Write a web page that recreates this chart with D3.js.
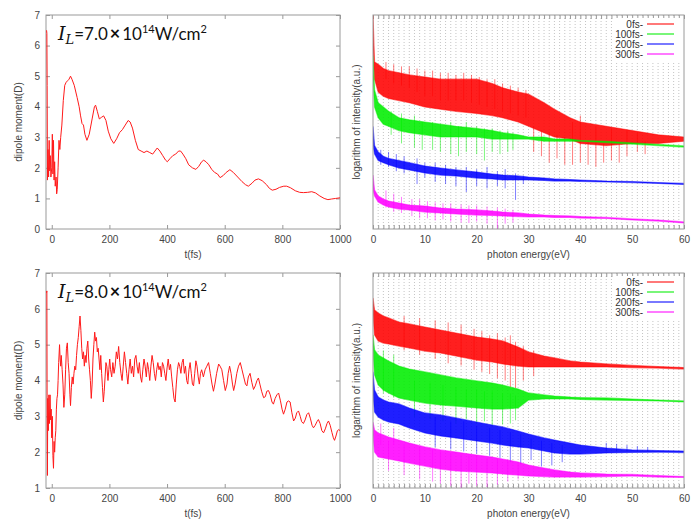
<!DOCTYPE html>
<html>
<head>
<meta charset="utf-8">
<script src="https://cdn.jsdelivr.net/npm/d3@7"></script>
<style>
  body { margin: 0; background: #fff; }
  svg { display: block; font-family: 'Liberation Sans', Arial, sans-serif; }
</style>
</head>
<body>
<div id="chart"></div>
<script>
// ---- data ----
const intensityLabels = ['7.0', '8.0'];
const legendLabels = ['0fs-', '100fs-', '200fs-', '300fs-'];
const seriesColors = ['#ff0000', '#00ee00', '#0000ff', '#ff00ff'];

// dipole moment (D) vs t (fs), I = 7.0e14
const dipole7 = [
  [-18, 6.5], [-17, 6.4], [-16, 4.7], [-15, 1.6], [-13, 2.6], [-11, 1.7], [-9, 2.9], [-7, 1.9],
  [-5, 2.4], [-3, 1.7], [0, 2.0], [2, 3.1], [4, 1.8], [6, 2.9], [8, 1.6], [10, 2.2], [12, 1.4],
  [15, 1.7], [17, 1.15], [19, 1.3], [22, 2.0], [25, 2.9], [28, 2.6], [31, 3.0], [35, 3.4],
  [40, 4.2], [45, 4.7], [50, 4.8], [55, 4.85], [60, 4.9], [65, 5.0], [70, 4.9], [78, 4.7],
  [88, 4.3], [95, 4.0], [100, 3.7], [105, 3.45], [110, 3.4], [115, 3.1], [122, 2.9], [130, 3.1],
  [140, 3.6], [148, 4.0], [152, 4.05], [158, 3.85], [165, 3.6], [172, 3.65], [180, 3.7],
  [188, 3.55], [196, 3.2], [205, 2.95], [215, 2.8], [225, 2.95], [235, 3.15], [245, 3.25],
  [255, 3.4], [265, 3.55], [272, 3.5], [280, 3.3], [290, 2.9], [300, 2.6], [310, 2.55],
  [320, 2.5], [330, 2.55], [340, 2.5], [350, 2.45], [358, 2.55], [366, 2.65], [375, 2.55],
  [385, 2.4], [395, 2.25], [401, 2.2], [410, 2.3], [420, 2.4], [430, 2.45], [440, 2.55],
  [447, 2.55], [455, 2.45], [465, 2.3], [475, 2.1], [488, 2.0], [500, 1.95], [510, 2.05],
  [520, 2.2], [527, 2.25], [535, 2.2], [545, 2.1], [555, 1.95], [565, 1.85], [575, 1.8],
  [584, 1.68], [595, 1.75], [605, 1.85], [618, 1.94], [630, 1.85], [645, 1.7], [660, 1.55],
  [672, 1.45], [682, 1.4], [695, 1.5], [705, 1.6], [717, 1.64], [730, 1.58], [745, 1.45],
  [755, 1.33], [765, 1.27], [778, 1.3], [790, 1.36], [805, 1.4], [815, 1.4], [828, 1.35],
  [845, 1.25], [860, 1.2], [873, 1.19], [888, 1.2], [902, 1.22], [915, 1.18], [930, 1.08],
  [945, 1.0], [958, 0.96], [970, 0.98], [985, 1.0], [1000, 1.02],
];

// dipole moment (D) vs t (fs), I = 8.0e14
const dipole8 = [
  [-18, 6.45], [-17, 6.5], [-16, 3.0], [-15, 1.35], [-14, 3.5], [-12, 2.6], [-10, 3.6], [-8, 2.8],
  [-6, 3.6], [-4, 2.9], [-2, 3.2], [0, 2.4], [2, 3.0], [4, 1.9], [6, 1.55], [8, 2.3], [10, 2.0],
  [12, 2.4], [14, 2.6], [16, 3.2], [18, 3.5], [20, 3.6], [22, 4.0], [24, 4.5], [27, 5.0],
  [29, 4.6], [31, 4.4], [33, 4.7], [36, 4.3], [39, 3.9], [42, 3.25], [45, 3.6], [48, 4.3],
  [51, 4.9], [54, 5.05], [57, 4.5], [60, 4.2], [63, 3.6], [65, 3.3], [68, 3.8], [71, 4.1],
  [74, 3.9], [77, 4.2], [80, 4.4], [83, 4.3], [86, 4.7], [89, 5.0], [92, 5.2], [95, 5.5],
  [98, 5.8], [101, 5.4], [104, 4.9], [107, 4.6], [110, 4.8], [113, 4.4], [116, 4.7], [119, 4.5],
  [122, 4.9], [125, 5.1], [128, 4.6], [131, 4.3], [134, 4.0], [137, 3.5], [140, 3.9], [143, 4.6],
  [146, 5.0], [149, 5.35], [152, 5.1], [155, 5.2], [158, 4.8], [161, 4.9], [164, 4.6], [167, 4.3],
  [170, 4.7], [173, 4.2], [176, 3.8], [179, 3.4], [182, 3.7], [185, 4.1], [188, 4.5], [191, 4.4],
  [195, 4.0], [198, 4.3], [201, 4.6], [204, 4.3], [208, 4.1], [212, 4.5], [216, 4.2], [220, 4.4],
  [224, 4.8], [228, 4.6], [232, 4.95], [236, 4.5], [240, 4.2], [244, 4.0], [248, 4.4], [252, 4.8],
  [256, 4.5], [260, 4.2], [264, 3.9], [268, 4.3], [272, 4.6], [276, 4.2], [280, 4.4], [284, 4.1],
  [288, 4.6], [292, 4.7], [296, 4.4], [300, 4.2], [304, 4.5], [308, 4.1], [312, 3.95], [316, 4.3],
  [320, 4.6], [324, 4.4], [328, 4.1], [332, 4.5], [336, 4.3], [340, 4.0], [344, 4.4], [348, 4.7],
  [352, 4.5], [356, 4.2], [360, 4.0], [364, 4.3], [368, 4.5], [372, 4.3], [376, 4.4], [380, 4.1],
  [384, 4.5], [388, 4.4], [392, 4.2], [396, 4.0], [400, 4.35], [404, 4.6], [408, 4.3], [412, 4.45],
  [416, 4.1], [420, 3.8], [424, 3.5], [428, 3.4], [432, 3.9], [436, 4.3], [440, 4.5], [444, 4.4],
  [448, 4.2], [452, 4.5], [456, 4.6], [460, 4.2], [464, 4.4], [468, 4.0], [472, 3.9], [476, 4.3],
  [480, 4.5], [484, 4.2], [488, 3.9], [492, 3.85], [496, 4.2], [500, 4.55], [504, 4.4], [508, 4.1],
  [512, 3.9], [516, 4.2], [520, 4.3], [526, 4.1], [532, 4.3], [538, 4.4], [544, 4.5], [550, 4.2],
  [556, 3.9], [561, 3.7], [566, 3.9], [572, 4.2], [579, 4.46], [584, 4.4], [590, 4.3], [596, 4.0],
  [602, 3.72], [608, 3.9], [612, 4.2], [617, 4.4], [622, 4.2], [627, 3.9], [631, 3.72], [636, 3.9],
  [642, 4.2], [648, 4.4], [654, 4.5], [660, 4.3], [666, 4.1], [672, 3.9], [677, 3.85], [682, 4.1],
  [688, 4.2], [694, 3.95], [700, 3.75], [706, 3.85], [712, 4.0], [717, 4.07], [722, 3.9], [728, 3.7],
  [735, 3.52], [741, 3.55], [746, 3.7], [752, 3.72], [758, 3.6], [764, 3.4], [769, 3.34], [775, 3.5],
  [781, 3.6], [787, 3.65], [793, 3.45], [799, 3.2], [804, 3.06], [810, 3.2], [816, 3.4], [821, 3.43],
  [827, 3.4], [833, 3.1], [839, 2.87], [845, 2.95], [850, 3.1], [856, 3.15], [862, 3.0], [867, 2.85],
  [873, 2.8], [879, 2.9], [885, 3.05], [891, 3.1], [897, 2.95], [903, 2.75], [908, 2.68], [914, 2.75],
  [920, 2.85], [925, 2.91], [931, 2.8], [937, 2.6], [943, 2.54], [949, 2.65], [955, 2.8], [960, 2.87],
  [966, 2.75], [972, 2.55], [977, 2.4], [981, 2.33], [986, 2.45], [991, 2.6], [996, 2.63], [1000, 2.6],
];

// spectra: log intensity (arbitrary units) upper / lower edge of the dense trace
const energies = [0, 0.3, 1, 2, 3, 5, 7, 10, 13, 16, 20, 23, 25, 28, 30, 33, 35, 38, 40, 45, 50, 55, 60];

const red7Hi = [100, 78, 77, 75, 74, 73, 72, 71, 70, 70, 70, 68, 66, 64, 63, 59, 56, 52, 50, 48, 46, 44, 43];
const red7Lo = [84, 70, 64, 62, 61, 60, 59, 57, 56, 55, 54, 53, 52, 50, 48, 45, 43, 42, 40, 39, 40, 40, 41];
const green7Hi = [81, 65, 59, 57, 55, 52, 51, 50, 49, 48, 47, 46, 45, 44, 43, 43, 42, 42, 41.4, 41, 40.2, 39.5, 38.8];
const green7Lo = [70, 57, 52, 49, 48, 46, 45, 44, 43, 43, 43, 42, 42, 42, 42, 41, 41, 41, 41, 40.4, 39.7, 39, 38.3];
const blue7Hi = [48, 39, 36, 34, 33, 32, 31, 29.4, 28.5, 27.6, 26.6, 25.7, 25.2, 24.8, 24.3, 23.8, 23.4, 23.1, 22.9, 22.4, 22.2, 21.7, 21.3];
const blue7Lo = [39, 35, 32, 31, 30, 28.5, 27.6, 26.2, 25.2, 24.8, 23.8, 23.4, 22.9, 22.9, 22.9, 22.7, 22.4, 22.4, 22.2, 22.0, 21.7, 21.3, 20.8];
const magenta7Hi = [25.2, 18.2, 15.4, 14.0, 13.1, 12.1, 11.2, 10.7, 9.8, 9.3, 8.9, 8.4, 7.9, 7.5, 7.0, 6.5, 6.3, 6.1, 5.8, 5.4, 4.7, 4.2, 3.3];
const magenta7Lo = [18.2, 15.4, 12.6, 11.2, 10.3, 9.3, 8.9, 7.9, 7.5, 7.0, 6.5, 6.3, 6.1, 5.8, 5.6, 5.6, 5.4, 5.4, 5.1, 4.9, 4.2, 3.7, 2.8];

const red8Hi = [88.4, 82.8, 81.4, 80.0, 79.1, 77.2, 76.3, 74.9, 73.5, 72.1, 70.2, 69.3, 68.4, 65.6, 63.3, 61.4, 60.5, 59.1, 58.6, 57.7, 57.0, 56.5, 56.0];
const red8Lo = [80.5, 71.2, 68.4, 67.4, 67.0, 66.0, 65.1, 63.7, 62.8, 61.4, 59.5, 58.6, 57.7, 56.7, 56.3, 56.3, 56.3, 56.3, 56.3, 56.3, 56.0, 55.8, 55.3];
const green8Hi = [71.2, 64.2, 61.9, 60.5, 59.1, 56.7, 55.3, 54.0, 52.6, 51.2, 49.8, 48.8, 47.9, 46.0, 44.2, 43.3, 42.8, 42.3, 42.1, 41.9, 41.4, 40.9, 40.5];
const green8Lo = [64.2, 52.6, 47.9, 45.6, 44.2, 41.9, 40.9, 39.5, 38.6, 38.1, 37.2, 36.7, 36.7, 37.2, 40.9, 41.4, 41.4, 41.4, 41.2, 40.9, 40.7, 40.5, 40.0];
const blue8Hi = [54.0, 45.6, 42.3, 40.9, 40.0, 39.1, 37.2, 34.9, 34.0, 32.6, 30.7, 29.3, 28.4, 26.5, 25.1, 23.3, 22.3, 20.9, 20.0, 18.6, 17.7, 17.4, 17.2];
const blue8Lo = [43.3, 35.3, 33.0, 31.6, 30.7, 29.8, 27.9, 25.6, 24.2, 23.3, 21.9, 20.9, 20.0, 19.1, 18.6, 17.2, 16.3, 15.8, 15.8, 16.3, 16.5, 16.7, 16.5];
const magenta8Hi = [30.7, 27.0, 25.6, 24.7, 23.7, 22.3, 20.9, 19.1, 17.7, 16.7, 15.3, 14.4, 13.5, 12.1, 10.7, 9.3, 8.4, 7.4, 7.0, 6.5, 6.3, 5.8, 5.3];
const magenta8Lo = [24.7, 16.7, 14.4, 14.0, 13.5, 12.6, 11.6, 10.2, 8.8, 7.9, 7.4, 7.0, 6.5, 6.0, 5.6, 5.3, 5.1, 5.1, 5.1, 5.3, 5.6, 5.1, 4.9];

// isolated harmonic spikes [energy, top, bottom]
const red7Spikes = [
  [2.5, 78, 70], [4, 77, 68], [5.5, 76, 67], [7, 76, 66], [8.5, 75, 64], [10, 74, 62], [11.5, 74, 62],
  [13, 73, 60], [14.5, 73, 60], [16, 72, 60], [17.5, 73, 60], [19, 72, 59], [20.5, 71, 58], [22, 70, 57],
  [23.5, 70, 56], [25, 68, 55], [26.5, 67, 54], [28, 66, 53], [29.5, 65, 52],
  [31, 48, 36], [32.5, 46, 34], [34, 45, 31], [35.5, 44, 33], [37, 43, 30], [38.5, 50, 30], [40, 53, 31],
  [41.5, 41, 30], [43, 48, 29], [44.5, 40, 31], [46, 47, 32], [47.5, 40, 31], [49, 46, 34], [51, 45, 36], [52.5, 41, 35],
];
const green7Spikes = [
  [3.5, 55, 44], [5.5, 54, 40], [8, 53, 38], [9.5, 50, 37], [11.5, 50, 37], [13, 49, 36], [15, 50, 35],
  [16.5, 48, 34], [18, 50, 36], [20, 48, 35], [21.5, 47, 32], [23, 47, 36], [24.5, 46, 35], [26, 46, 36], [27, 45, 37],
];
const blue7Spikes = [
  [1.5, 37, 30], [3, 36, 29], [4.5, 35, 27], [6, 34, 26], [8.5, 33, 21], [10, 31, 24], [12, 31, 22], [14, 30, 21],
  [16, 29, 20], [18, 29, 17.3], [20, 28, 20], [22, 29, 19], [24, 27, 20], [25.5, 28, 19], [27.5, 26, 13.6], [29, 25, 21],
];
const magenta7Spikes = [
  [2.5, 18, 10], [4, 16.5, 8], [5.5, 15, 7.5], [7.5, 14, 6], [9, 14, 5], [10.5, 13, 5], [12, 12.5, 4], [13.5, 12, 4.5],
  [15, 12, 3.5], [17, 11.5, 3], [18.5, 11, 2.8], [20, 11, 3.5], [22, 10.5, 2.5], [24, 10, 0], [25.5, 9.5, 2.5], [27, 9, 3],
];
const red8Spikes = [
  [6, 80, 64], [9, 79, 62], [12, 78, 60], [14.5, 77, 58], [17, 76, 57], [19.5, 74, 55], [21, 73, 54], [22.5, 71, 53],
  [24, 72, 51], [25.5, 70, 50], [26.5, 71, 47], [27.5, 68, 46.5], [29, 66, 50], [31, 64, 52],
];
const green8Spikes = [
  [2, 64, 44], [4, 62, 42], [8, 50, 33], [11, 49, 32], [13.5, 48, 31], [16, 47, 30], [18, 46, 32], [20, 46, 30],
  [21.5, 45, 31], [23, 45, 29], [25, 44, 29.5], [26.5, 44, 30], [27.5, 43, 31.5],
];
const blue8Spikes = [
  [12, 33, 19], [15, 31, 18], [17.5, 31, 17], [20, 29, 16], [22.5, 28, 15], [24.5, 27, 14], [26.5, 26, 12],
  [28.5, 25, 11], [30.5, 23, 13], [32.5, 22, 10], [34.5, 21, 10.5], [36.5, 20, 12],
  [45, 21, 17], [47, 20.5, 17], [49, 20, 17], [51, 19.5, 17], [53, 19, 17],
];
const magenta8Spikes = [
  [1.5, 30, 20], [3, 22, 8], [4, 28, 20], [6, 20, 6], [9, 19, 4], [11.5, 18, 3], [13, 17, 2], [15, 16, 1],
  [17, 15.5, 0], [18.5, 15, 2], [20, 15, 1], [22, 14, 0.5], [24, 13.5, 1.5], [26, 13, 3], [28, 12, 4],
];

// ---- drawing ----
const svg = d3.select('#chart')
  .append('svg')
  .attr('width', 692)
  .attr('height', 520);

const formatInt = d3.format('d');

function styleAxis(sel) {
  sel.select('.domain').remove();
  sel.selectAll('.tick line').attr('stroke', '#999');
  sel.selectAll('.tick text')
    .attr('fill', '#444')
    .attr('font-size', 10)
    .attr('font-family', "'Liberation Sans', Arial, sans-serif");
}

function frame(g, box) {
  g.append('rect')
    .attr('x', box.left)
    .attr('y', box.top)
    .attr('width', box.right - box.left)
    .attr('height', box.bottom - box.top)
    .attr('fill', 'none')
    .attr('stroke', '#9a9a9a');
}

function clip(id, box) {
  svg.append('clipPath')
    .attr('id', id)
    .append('rect')
    .attr('x', box.left)
    .attr('y', box.top)
    .attr('width', box.right - box.left)
    .attr('height', box.bottom - box.top);
}

function intensityNote(g, box, label) {
  const t = g.append('text')
    .attr('x', box.left + 12)
    .attr('y', box.top + 25)
    .attr('fill', '#111')
    .attr('font-family', 'Lato, sans-serif')
    .attr('font-size', 17);
  t.append('tspan').attr('font-family', "'DejaVu Serif', serif").attr('font-style', 'italic').attr('font-size', 19).text('I');
  t.append('tspan').attr('font-family', "'DejaVu Serif', serif").attr('font-style', 'italic').attr('font-size', 13).attr('dy', 4).text('L');
  t.append('tspan').attr('dy', -4).text(`=${label}`);
  t.append('tspan').attr('font-weight', 'bold').attr('font-size', 18).attr('dx', 2).text('×');
  t.append('tspan').attr('dx', 2).text('10');
  t.append('tspan').attr('font-size', 11).attr('dy', -7).text('14');
  t.append('tspan').attr('dy', 7).text('W/cm');
  t.append('tspan').attr('font-size', 11).attr('dy', -7).text('2');
}

function dipolePlot(points, yDomain, box, label, clipId) {
  const x = d3.scaleLinear().domain([-20, 1000]).range([box.left, box.right]);
  const y = d3.scaleLinear().domain(yDomain).range([box.bottom, box.top]);
  const g = svg.append('g');
  clip(clipId, box);

  const yTicks = y.ticks(yDomain[1] - yDomain[0]);
  const xTicks = x.ticks(5);

  g.append('g')
    .attr('transform', `translate(0, ${box.bottom})`)
    .call(d3.axisBottom(x).tickValues(xTicks).tickFormat(formatInt)
      .tickSizeInner(-4).tickSizeOuter(0).tickPadding(7))
    .call(styleAxis);
  g.append('g')
    .attr('transform', `translate(0, ${box.top})`)
    .call(d3.axisTop(x).tickValues(xTicks).tickSizeInner(-4).tickSizeOuter(0).tickFormat(''))
    .call(styleAxis);
  g.append('g')
    .attr('transform', `translate(${box.left}, 0)`)
    .call(d3.axisLeft(y).tickValues(yTicks).tickFormat(formatInt)
      .tickSizeInner(-4).tickSizeOuter(0).tickPadding(6))
    .call(styleAxis);
  g.append('g')
    .attr('transform', `translate(${box.right}, 0)`)
    .call(d3.axisRight(y).tickValues(yTicks).tickSizeInner(-4).tickSizeOuter(0).tickFormat(''))
    .call(styleAxis);
  frame(g, box);

  g.append('path')
    .datum(points)
    .attr('clip-path', `url(#${clipId})`)
    .attr('fill', 'none')
    .attr('stroke', '#ff1a1a')
    .attr('stroke-width', 1)
    .attr('stroke-linejoin', 'round')
    .attr('d', d3.line().x(d => x(d[0])).y(d => y(d[1])));

  g.append('text')
    .attr('x', (box.left + box.right) / 2)
    .attr('y', box.bottom + 29)
    .attr('text-anchor', 'middle')
    .attr('font-size', 10)
    .attr('fill', '#444')
    .text('t(fs)');
  g.append('text')
    .attr('transform', `translate(${box.left - 24}, ${(box.top + box.bottom) / 2}) rotate(-90)`)
    .attr('text-anchor', 'middle')
    .attr('font-size', 10)
    .attr('fill', '#444')
    .text('dipole moment(D)');

  intensityNote(g, box, label);
}

function spectrumPlot(series, box, clipId) {
  const x = d3.scaleLinear().domain([0, 60]).range([box.left, box.right]);
  const y = d3.scaleLinear().domain([0, 100]).range([box.bottom, box.top]);
  const g = svg.append('g');
  clip(clipId, box);

  const minor = x.ticks(60);
  g.append('g')
    .selectAll('line')
    .data(minor.slice(1, -1))
    .enter()
    .append('line')
    .attr('x1', d => x(d))
    .attr('x2', d => x(d))
    .attr('y1', box.top)
    .attr('y2', box.bottom)
    .attr('stroke', '#c4c4c4')
    .attr('stroke-width', 1)
    .attr('stroke-dasharray', '1,2');

  g.append('g')
    .attr('transform', `translate(0, ${box.bottom})`)
    .call(d3.axisBottom(x).tickValues(minor).tickSizeInner(-4).tickSizeOuter(0).tickPadding(7)
      .tickFormat(d => (d % 10 === 0 ? d : '')))
    .call(styleAxis);
  g.append('g')
    .attr('transform', `translate(0, ${box.top})`)
    .call(d3.axisTop(x).tickValues(minor).tickSizeInner(-4).tickSizeOuter(0).tickFormat(''))
    .call(styleAxis);

  const area = d3.area()
    .x(d => x(d.e))
    .y0(d => y(d.lo))
    .y1(d => y(d.hi));

  const plot = g.append('g').attr('clip-path', `url(#${clipId})`);
  series.forEach((s) => {
    const rows = energies.map((e, i) => ({ e, hi: s.hi[i], lo: s.lo[i] }));
    plot.append('g')
      .selectAll('line')
      .data(s.spikes)
      .enter()
      .append('line')
      .attr('x1', d => x(d[0]))
      .attr('x2', d => x(d[0]))
      .attr('y1', d => y(d[1]))
      .attr('y2', d => y(d[2]))
      .attr('stroke', s.color)
      .attr('stroke-opacity', 0.5)
      .attr('stroke-width', 1);
    plot.append('path')
      .datum(rows)
      .attr('fill', s.color)
      .attr('fill-opacity', 0.88)
      .attr('stroke', s.color)
      .attr('stroke-opacity', 0.5)
      .attr('stroke-width', 1.2)
      .attr('d', area);
  });

  frame(g, box);

  // legend
  const lg = g.append('g');
  lg.append('rect')
    .attr('x', box.right - 68)
    .attr('y', box.top + 3)
    .attr('width', 64)
    .attr('height', 44)
    .attr('fill', '#fff');
  series.forEach((s, i) => {
    const yy = box.top + 9 + i * 10;
    lg.append('text')
      .attr('x', box.right - 41)
      .attr('y', yy)
      .attr('dy', '0.35em')
      .attr('text-anchor', 'end')
      .attr('font-size', 10)
      .attr('fill', '#333')
      .text(legendLabels[i]);
    lg.append('line')
      .attr('x1', box.right - 37)
      .attr('x2', box.right - 10)
      .attr('y1', yy)
      .attr('y2', yy)
      .attr('stroke', s.color)
      .attr('stroke-opacity', 0.7)
      .attr('stroke-width', 1.5);
  });

  g.append('text')
    .attr('x', (box.left + box.right) / 2)
    .attr('y', box.bottom + 29)
    .attr('text-anchor', 'middle')
    .attr('font-size', 10)
    .attr('fill', '#444')
    .text('photon energy(eV)');
  g.append('text')
    .attr('transform', `translate(${box.left - 13}, ${(box.top + box.bottom) / 2}) rotate(-90)`)
    .attr('text-anchor', 'middle')
    .attr('font-size', 10)
    .attr('fill', '#444')
    .text('logarithm of intensity(a.u.)');
}

const topLeft = { left: 46, right: 340, top: 15, bottom: 229 };
const botLeft = { left: 46, right: 340, top: 273, bottom: 488 };
const topRight = { left: 373, right: 684, top: 15, bottom: 229 };
const botRight = { left: 373, right: 684, top: 273, bottom: 488 };

dipolePlot(dipole7, [0, 7], topLeft, intensityLabels[0], 'c1');
dipolePlot(dipole8, [1, 7], botLeft, intensityLabels[1], 'c2');

spectrumPlot([
  { color: seriesColors[0], hi: red7Hi, lo: red7Lo, spikes: red7Spikes },
  { color: seriesColors[1], hi: green7Hi, lo: green7Lo, spikes: green7Spikes },
  { color: seriesColors[2], hi: blue7Hi, lo: blue7Lo, spikes: blue7Spikes },
  { color: seriesColors[3], hi: magenta7Hi, lo: magenta7Lo, spikes: magenta7Spikes },
], topRight, 'c3');

spectrumPlot([
  { color: seriesColors[0], hi: red8Hi, lo: red8Lo, spikes: red8Spikes },
  { color: seriesColors[1], hi: green8Hi, lo: green8Lo, spikes: green8Spikes },
  { color: seriesColors[2], hi: blue8Hi, lo: blue8Lo, spikes: blue8Spikes },
  { color: seriesColors[3], hi: magenta8Hi, lo: magenta8Lo, spikes: magenta8Spikes },
], botRight, 'c4');
</script>
</body>
</html>
